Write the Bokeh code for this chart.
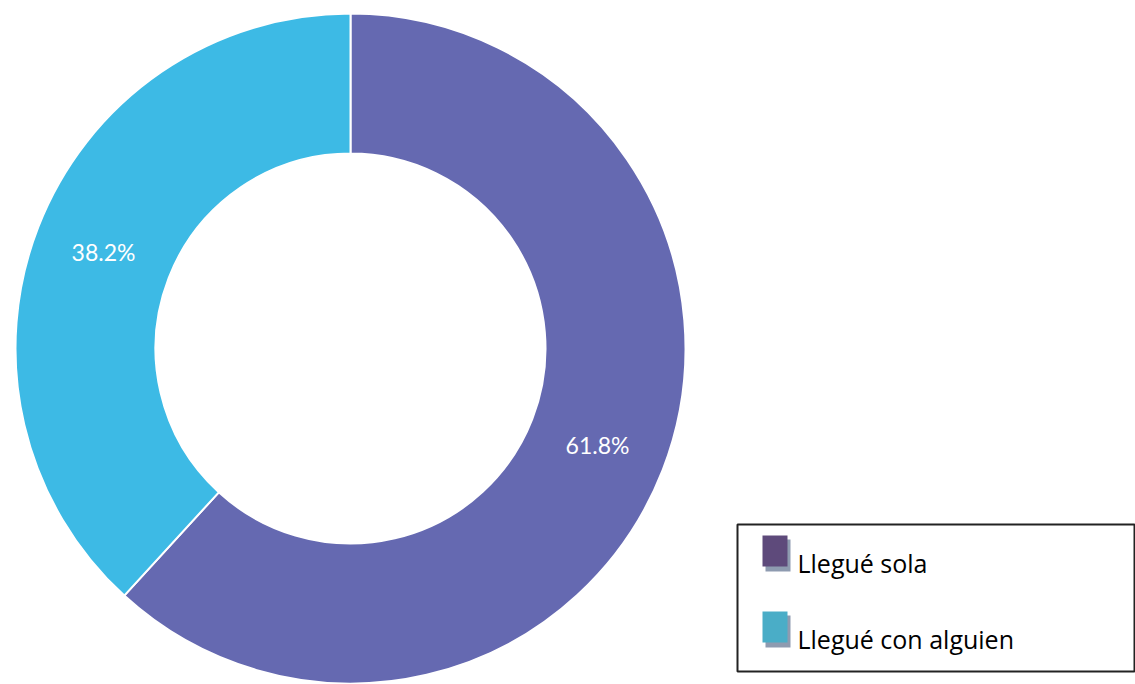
import numpy as np
from bokeh.plotting import figure
from bokeh.models import Range1d, ColumnDataSource
from bokeh.core.properties import value
from bokeh.embed import file_html
from bokeh.resources import INLINE

# ---- data ----
categories = ["Llegué sola", "Llegué con alguien"]
percentages = [61.8, 38.2]
pct_labels = ["61.8%", "38.2%"]
slice_colors = ["#6569B1", "#3DBAE5"]
legend_colors = ["#5E4A7B", "#4AADC7"]

W, H = 1135, 684
p = figure(width=W, height=H, output_backend="svg", toolbar_location=None,
           x_range=Range1d(0, W), y_range=Range1d(0, H), min_border=0,
           outline_line_color=None, background_fill_color="white")
p.axis.visible = False
p.grid.visible = False

def px(x):
    return x

def py(y):
    return H - y

cx, cy = px(350), py(348)
r_out, r_in = 335, 195

# clockwise from 12 o'clock
fr = np.array(percentages) / 100.0
cum = np.concatenate([[0], np.cumsum(fr)])
a_start_cw = np.pi / 2 - cum[:-1] * 2 * np.pi
a_end_cw = np.pi / 2 - cum[1:] * 2 * np.pi

src = ColumnDataSource(dict(
    start=a_end_cw, end=a_start_cw, color=slice_colors, cat=categories,
))
p.annular_wedge(x=cx, y=cy, inner_radius=r_in, outer_radius=r_out,
                start_angle="start", end_angle="end", direction="anticlock",
                fill_color="color", line_color="white", line_width=2, source=src)

mid = (a_start_cw + a_end_cw) / 2
rm = (r_in + r_out) / 2
lab = ColumnDataSource(dict(x=cx + rm * np.cos(mid), y=cy + rm * np.sin(mid), t=pct_labels))
p.text(x="x", y="y", text="t", source=lab, text_color="white",
       text_font=value("Lato"), text_font_size="23px",
       text_align="center", text_baseline="middle")

# ---- manual legend ----
p.quad(left=px(737), right=px(1134), top=py(524), bottom=py(671),
       fill_color=None, line_color="#222222", line_width=2)

sw_top = [535, 611]
for i, cat in enumerate(categories):
    t = sw_top[i]
    p.quad(left=px(765), right=px(790), top=py(t + 4), bottom=py(t + 36),
           fill_color="#8E9BB0", line_color=None)
    p.quad(left=px(762), right=px(787), top=py(t), bottom=py(t + 31),
           fill_color=legend_colors[i], line_color=None)
    p.text(x=[px(797)], y=[py(t + 27)], text=[cat], text_color="black",
           text_font=value("Open Sans"), text_font_size="25px",
           text_align="left", text_baseline="alphabetic")

open("out.html", "w").write(file_html(p, INLINE))
